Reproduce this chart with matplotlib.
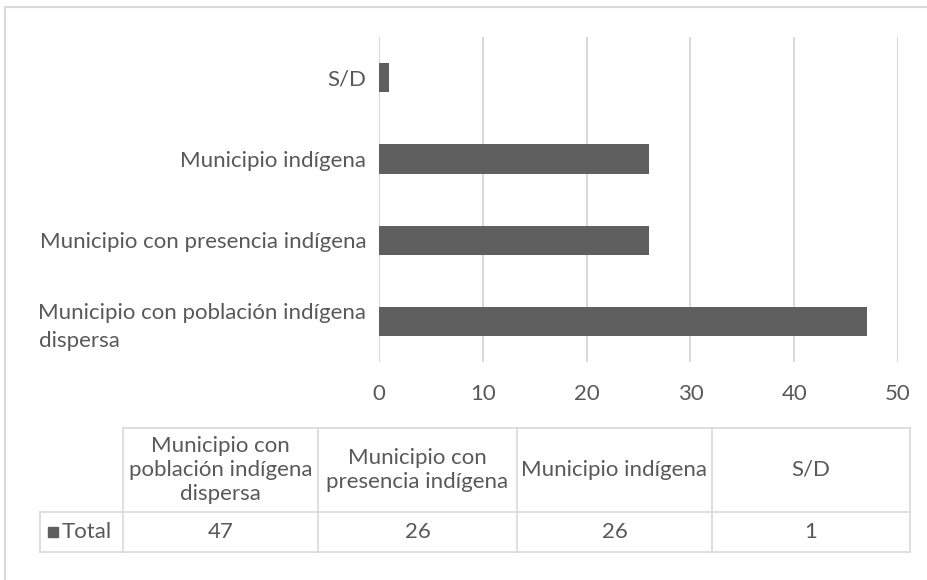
import matplotlib.pyplot as plt

# Data
categories = [
    "Municipio con población indígena\ndispersa",
    "Municipio con presencia indígena",
    "Municipio indígena",
    "S/D",
]
table_headers = [
    "Municipio con\npoblación indígena\ndispersa",
    "Municipio con\npresencia indígena",
    "Municipio indígena",
    "S/D",
]
totals = [47, 26, 26, 1]
series_name = "Total"
xticks = [0, 10, 20, 30, 40, 50]

W, H = 927, 580
BAR_COLOR = "#5f5f5f"
TEXT_COLOR = "#595959"
GRID_COLOR = "#d9d9d9"
FS = 16

plt.rcParams["font.family"] = ["Lato", "DejaVu Sans"]

fig = plt.figure(figsize=(W / 100, H / 100), dpi=100)


def px_axes(x0, y0, x1, y1):
    # axes placed by pixel box (top-left origin)
    return fig.add_axes([x0 / W, 1 - y1 / H, (x1 - x0) / W, (y1 - y0) / H])


# Outer chart border
frame = fig.add_axes([0, 0, 1, 1])
frame.set_xlim(0, W)
frame.set_ylim(H, 0)
frame.axis("off")
frame.plot([5, 5, W + 5], [H + 5, 7, 7], color=GRID_COLOR, lw=1.5)

# Bar chart
ax = px_axes(379, 37, 898, 362)
ypos = list(range(len(categories)))
ax.barh(ypos, totals, height=0.36, color=BAR_COLOR, zorder=3)
ax.set_xlim(0, 50)
ax.set_ylim(-0.5, len(categories) - 0.5)
ax.set_xticks(xticks)
ax.set_yticks(ypos)
ax.set_yticklabels(categories, ha="right")
ax.tick_params(axis="both", length=0, labelsize=FS, colors=TEXT_COLOR)
ax.tick_params(axis="x", pad=16)
ax.tick_params(axis="y", pad=9)
for lbl in ax.get_yticklabels():
    lbl.set_multialignment("left")
    lbl.set_linespacing(1.5)
ax.grid(axis="x", color=GRID_COLOR, lw=1.5, zorder=0)
for s in ax.spines.values():
    s.set_visible(False)

# Data table below the chart
tab = frame
col_edges = [40, 123, 318, 517, 712, 910]
row_top, row_mid, row_bot = 428, 512, 552
lw = 1.2
# horizontal lines
tab.plot([123, 910], [row_top, row_top], color=GRID_COLOR, lw=lw)
tab.plot([40, 910], [row_mid, row_mid], color=GRID_COLOR, lw=lw)
tab.plot([40, 910], [row_bot, row_bot], color=GRID_COLOR, lw=lw)
# vertical lines
tab.plot([40, 40], [row_mid, row_bot], color=GRID_COLOR, lw=lw)
for x in col_edges[1:]:
    tab.plot([x, x], [row_top, row_bot], color=GRID_COLOR, lw=lw)

for i, (head, val) in enumerate(zip(table_headers, totals)):
    cx = (col_edges[i + 1] + col_edges[i + 2]) / 2
    tab.text(cx, (row_top + row_mid) / 2, head, ha="center", va="center",
             fontsize=FS, color=TEXT_COLOR, linespacing=1.22)
    tab.text(cx, (row_mid + row_bot) / 2, str(val), ha="center", va="center",
             fontsize=FS, color=TEXT_COLOR)

# legend key + series name
ky = (row_mid + row_bot) / 2
tab.add_patch(plt.Rectangle((48, ky - 5), 10, 10, color=BAR_COLOR))
tab.text(62, ky, series_name, ha="left", va="center", fontsize=FS, color=TEXT_COLOR)

fig.savefig("out.png", dpi=100)
